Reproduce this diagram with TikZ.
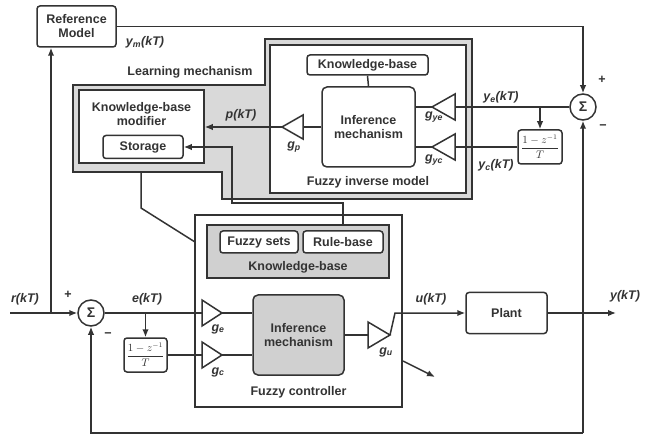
\documentclass[tikz,border=0pt]{standalone}
\usepackage{fontspec}
\setmainfont{Liberation Sans}
\usetikzlibrary{arrows.meta}
\definecolor{ink}{HTML}{333333}
\definecolor{lmfill}{HTML}{D9D9D9}
\definecolor{kbfill}{HTML}{D0D0D0}
\newcommand\dfont{\fontsize{12.5}{14}\selectfont}
\newcommand\sub[1]{\textsubscript{#1}}
\newcommand\dfr{$\displaystyle\frac{1-z^{-1}}{T}$}
\tikzset{
  ln/.style={draw=ink, line width=1.5pt},
  arr/.style={ln, -{Latex[length=8pt,width=6.5pt]}},
  sqbox/.style={ln, fill=white, inner sep=0pt, align=center, text=ink, font=\dfont\bfseries},
  rbox/.style={sqbox, rounded corners=3pt},
  txt/.style={text=ink, font=\dfont\bfseries, inner sep=0pt, align=center},
  lbl/.style={text=ink, font=\dfont\bfseries\itshape, inner sep=0pt},
  sumnode/.style={ln, circle, fill=white, minimum size=26pt, inner sep=0pt, text=ink, font=\fontsize{14}{14}\selectfont\bfseries},
  tri/.style={ln, fill=white, line join=miter},
  frac/.style={rbox, font=\fontsize{10.5}{11}\selectfont},
}
\begin{document}
\begin{tikzpicture}[x=1pt,y=-1pt]
\fill[white] (0,0) rectangle (645,438);
\useasboundingbox (0,0) rectangle (645,438);

% Reference model
\node[rbox, minimum width=79pt, minimum height=41pt] (refm) at (76.5,26.5) {Reference\\Model};
\node[lbl] (ymlbl) at (145,42) {y\sub{m}(kT)};

% Learning mechanism
\draw[ln, fill=lmfill] (73,85) -- (265,85) -- (265,39) -- (472,39) -- (472,199) -- (222,199) -- (222,172) -- (73,172) -- cycle;
\node[txt] (lmlbl) at (190,72) {Learning mechanism};
\node[sqbox, minimum width=125pt, minimum height=73pt] (kbm) at (141.5,126.5) {};
\node[txt] (kbmt) at (141.5,114) {Knowledge-base\\modifier};
\node[rbox, minimum width=80pt, minimum height=23pt] (storage) at (143,147) {Storage};

% Fuzzy inverse model
\node[sqbox, minimum width=196pt, minimum height=148pt] (fim) at (368,119) {};
\node[txt] (fimlbl) at (368,182) {Fuzzy inverse model};
\node[rbox, minimum width=121pt, minimum height=20pt] (ikb) at (367.5,65) {Knowledge-base};
\node[rbox, rounded corners=5pt, minimum width=93pt, minimum height=80pt] (iim) at (368.5,127) {Inference\\mechanism};
\draw[ln] (ikb.south) -- (iim.north);

% gains inverse model
\draw[tri] (303,115) -- (282,127) -- (303,139) -- cycle;
\coordinate (gpT) at (282,127); \coordinate (gpB) at (303,127);
\node[lbl] (gplbl) at (294,147) {g\sub{p}};
\draw[tri] (455,94) -- (432,107) -- (455,120) -- cycle;
\coordinate (gyeT) at (432,107); \coordinate (gyeB) at (455,107);
\node[lbl] (gyelbl) at (434,117) {g\sub{ye}};
\draw[tri] (455,134) -- (432,147) -- (455,160) -- cycle;
\coordinate (gycT) at (432,147); \coordinate (gycB) at (455,147);
\node[lbl] (gyclbl) at (434,160) {g\sub{yc}};

\draw[ln] (iim.west) -- (gpB);
\draw[arr] (gpT) -- (gpT -| kbm.east);
\node[lbl] (plbl) at (241,115) {p(kT)};
\draw[ln] (gyeT) -- (gyeT -| iim.east);
\draw[ln] (gycT) -- (gycT -| iim.east);

% upper sum and derivative
\node[sumnode] (sig1) at (583,107) {Σ};
\node[txt] (p1) at (602,80) {+};
\node[txt] (m1) at (603,127) {−};
\node[frac, minimum width=44pt, minimum height=34pt] (dT1) at (540,147) {\dfr};
\draw[ln] (sig1.west) -- (gyeB);
\draw[arr] (dT1.north |- sig1.west) -- (dT1.north);
\draw[ln] (dT1.west) -- (gycB);
\node[lbl] (yelbl) at (501,97) {y\sub{e}(kT)};
\node[lbl] (yclbl) at (496,165) {y\sub{c}(kT)};
\draw[arr] (refm.east) -| (sig1.north);

% Fuzzy controller
\node[sqbox, minimum width=207pt, minimum height=192pt] (fc) at (298.5,311) {};
\node[txt] (fclbl) at (298.5,392) {Fuzzy controller};
\node[sqbox, fill=kbfill, minimum width=182pt, minimum height=53pt] (ckb) at (298,251.5) {};
\node[txt] (ckblbl) at (298,267) {Knowledge-base};
\node[rbox, minimum width=78pt, minimum height=22pt] (fs) at (259,242) {Fuzzy sets};
\node[rbox, minimum width=80pt, minimum height=22pt] (rb) at (343,242) {Rule-base};
\node[rbox, rounded corners=5pt, fill=kbfill, minimum width=91pt, minimum height=80pt] (cim) at (298.5,335) {Inference\\mechanism};

% connectors learning mechanism -> controller
\coordinate (c1) at (232,203);
\draw[arr] (rb.north |- ckb.north) |- (c1) |- (storage.east);
\coordinate (lmb) at (141,172);
\coordinate (lmk) at (141,208);
\coordinate (fck) at (195,242);
\draw[ln] (lmb) -- (lmk) -- (fck);

% lower sum
\coordinate (rin) at (10,313);
\node[sumnode] (sig2) at (91,313) {Σ};
\node[txt] (p2) at (68,295) {+};
\node[txt] (m2) at (108,335) {−};
\draw[arr] (rin) -- (sig2.west);
\coordinate (jr) at (51,313);
\draw[arr] (jr) -- (jr |- refm.south);
\node[lbl] (rlbl) at (25,299) {r(kT)};
\node[lbl] (elbl) at (147,299) {e(kT)};

\node[frac, minimum width=43pt, minimum height=34pt] (dT2) at (145.5,355) {\dfr};

\draw[tri] (202,300) -- (222,313) -- (202,326) -- cycle;
\coordinate (geB) at (202,313); \coordinate (geT) at (222,313);
\node[lbl] (gelbl) at (218,329) {g\sub{e}};
\draw[tri] (202,342) -- (222,355) -- (202,368) -- cycle;
\coordinate (gcB) at (202,355); \coordinate (gcT) at (222,355);
\node[lbl] (gclbl) at (218,372) {g\sub{c}};

\draw[ln] (sig2.east) -- (geB);
\draw[arr] (dT2.north |- sig2.east) -- (dT2.north);
\draw[ln] (dT2.east) -- (gcB);
\draw[ln] (geT) -- (geT -| cim.west);
\draw[ln] (gcT) -- (gcT -| cim.west);

% output gain and plant
\draw[tri] (368,322) -- (390,335) -- (368,348) -- cycle;
\coordinate (guB) at (368,335); \coordinate (guT) at (390,335);
\node[lbl] (gulbl) at (386,352) {g\sub{u}};
\draw[ln] (cim.east) -- (guB);
\node[rbox, minimum width=81pt, minimum height=41pt] (plant) at (506.5,313) {Plant};
\coordinate (uk) at (395,313);
\draw[arr] (guT) -- (uk) -- (plant.west);
\node[lbl] (ulbl) at (431,299) {u(kT)};
\coordinate (yout) at (616,313);
\draw[arr] (plant.east) -- (yout);
\node[lbl] (ylbl) at (625,296) {y(kT)};

% adaptation arrow
\coordinate (da1) at (403,361);
\coordinate (da2) at (435,377);
\draw[arr] (da1) -- (da2);

% feedback
\coordinate (fb) at (583,433);
\draw[arr] (fb) -- (sig1.south);
\draw[arr] (fb) -| (sig2.south);
\end{tikzpicture}
\end{document}
